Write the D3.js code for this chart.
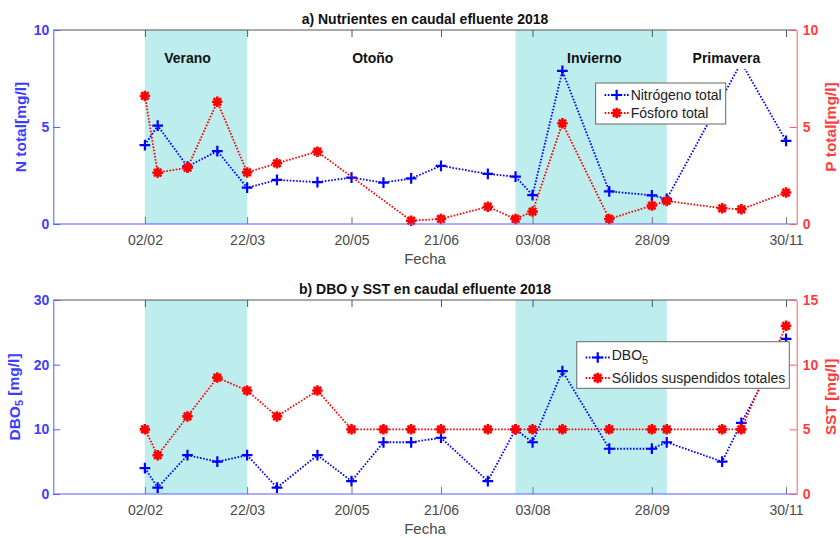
<!DOCTYPE html>
<html>
<head>
<meta charset="utf-8">
<script src="https://cdn.jsdelivr.net/npm/d3@7"></script>
<style>
  body { margin: 0; background: #fff; }
  svg { font-family: "Liberation Sans", Arial, sans-serif; }
</style>
</head>
<body>
<div id="chart"></div>
<script>
// fechas de muestreo 2018
const fechas = ["2018-02-02", "2018-02-08", "2018-02-22", "2018-03-08", "2018-03-22", "2018-04-05",
                "2018-04-24", "2018-05-10", "2018-05-25", "2018-06-07", "2018-06-21", "2018-07-13",
                "2018-07-26", "2018-08-03", "2018-08-17", "2018-09-08", "2018-09-28", "2018-10-05",
                "2018-10-31", "2018-11-09", "2018-11-30"];

// a) nutrientes (null = sin dato)
const nTotal = [4.07, 5.07, 2.96, 3.76, 1.87, 2.27, 2.16, 2.39, 2.13, 2.35, 3.0, 2.58,
                2.44, 1.49, 7.89, 1.68, 1.48, 1.29, null, 8.33, 4.28];
const pTotal = [6.6, 2.65, 2.9, 6.3, 2.66, 3.13, 3.73, null, null, 0.17, 0.26, 0.89,
                0.26, 0.64, 5.19, 0.26, 0.95, 1.19, 0.81, 0.76, 1.62];

// b) DBO5 y SST
const dbo5 = [4, 1, 6, 5, 6, 1, 6, 2, 8, 8, 8.7, 2, 10, 8, 19, 7, 7, 8, 5, 11, 24];
const sst = [5, 3, 6, 9, 8, 6, 8, 5, 5, 5, 5, 5, 5, 5, 5, 5, 5, 5, 5, 5, 13];

// eje x
const tickFechas = ["2018-02-02", "2018-03-22", "2018-05-10", "2018-06-21", "2018-08-03", "2018-09-28", "2018-11-30"];
const tickEtiquetas = ["02/02", "22/03", "20/05", "21/06", "03/08", "28/09", "30/11"];

// estaciones
const estaciones = ["Verano", "Otoño", "Invierno", "Primavera"];
const estacionCentro = ["2018-02-22", "2018-05-20", "2018-09-01", "2018-11-02"];
const sombreado = [["2018-02-02", "2018-03-22"], ["2018-07-26", "2018-10-05"]];

const W = 840, H = 538;
const x0 = 53.3, x1 = 796.7, panelH = 194;
const azul = "#0000ff", rojo = "#ff0000";
const azulEje = "#5c5cff", rojoEje = "#ff5c5c";
const azulTxt = "#3d3dff", rojoTxt = "#ff3d3d";
const gris = "#4a4a4a";
const cian = "#bdeded";

const parse = d3.timeParse("%Y-%m-%d");
const dias = fechas.map(parse);

const x = d3.scaleTime()
  .domain([parse("2017-12-21"), parse("2018-12-05")])
  .range([x0, x1]);

const svg = d3.select("#chart").append("svg")
  .attr("width", W)
  .attr("height", H);

// marcadores al estilo matlab
const simboloMas = {
  draw(ctx, size) {
    const r = Math.sqrt(size) / 2;
    ctx.moveTo(-r, 0); ctx.lineTo(r, 0);
    ctx.moveTo(0, -r); ctx.lineTo(0, r);
  }
};
const simboloAsterisco = {
  draw(ctx, size) {
    const r = Math.sqrt(size) / 2, d = r * Math.SQRT1_2;
    ctx.moveTo(-r, 0); ctx.lineTo(r, 0);
    ctx.moveTo(0, -r); ctx.lineTo(0, r);
    ctx.moveTo(-d, -d); ctx.lineTo(d, d);
    ctx.moveTo(-d, d); ctx.lineTo(d, -d);
  }
};

function marcador(g, tipo, color) {
  if (tipo == "mas") {
    g.append("path")
      .attr("d", d3.symbol().type(simboloMas).size(115)())
      .attr("fill", "none").attr("stroke", color).attr("stroke-width", 2.2);
  } else {
    g.append("path")
      .attr("d", d3.symbol().type(simboloAsterisco).size(110)())
      .attr("fill", "none").attr("stroke", color).attr("stroke-width", 2.6);
    g.append("circle").attr("r", 2.4).attr("fill", color);
  }
}

function serie(g, valores, escala, color, tipo) {
  const puntos = dias.map((f, i) => ({ f: f, v: valores[i] })).filter(d => d.v != null);
  const linea = d3.line().x(d => x(d.f)).y(d => escala(d.v));
  g.append("path")
    .datum(puntos)
    .attr("d", linea)
    .attr("fill", "none")
    .attr("stroke", color)
    .attr("stroke-width", 1.8)
    .attr("stroke-dasharray", "1.6,1.6");
  puntos.forEach(d => {
    const m = g.append("g").attr("transform", `translate(${x(d.f)},${escala(d.v)})`);
    marcador(m, tipo, color);
  });
}

function dibujarPanel(p) {
  const y0 = p.top, y1 = p.top + panelH;
  const yIzq = d3.scaleLinear().domain([0, p.maxIzq]).range([y1, y0]);
  const yDer = d3.scaleLinear().domain([0, p.maxDer]).range([y1, y0]);
  const g = svg.append("g");

  // zonas sombreadas
  g.selectAll("rect.sombra")
    .data(sombreado)
    .join("rect")
    .attr("x", d => x(parse(d[0])))
    .attr("width", d => x(parse(d[1])) - x(parse(d[0])))
    .attr("y", y0)
    .attr("height", panelH)
    .attr("fill", cian);

  // series
  serie(g, p.izq, yIzq, azul, "mas");
  serie(g, p.der, yDer, rojo, "ast");

  // etiquetas de estaciones
  if (p.estaciones) {
    estaciones.forEach((nombre, i) => {
      const f = parse(estacionCentro[i]);
      const t = g.append("text")
        .attr("x", x(f))
        .attr("y", yIzq(8.3))
        .attr("text-anchor", "middle")
        .attr("font-size", 14)
        .attr("font-weight", "bold")
        .attr("fill", "#111")
        .text(nombre);
      const dentro = sombreado.some(s => f >= parse(s[0]) && f <= parse(s[1]));
      if (!dentro) {
        const b = t.node().getBBox();
        g.insert("rect", () => t.node())
          .attr("x", b.x - 3).attr("y", b.y - 3)
          .attr("width", b.width + 6).attr("height", b.height + 6)
          .attr("fill", "#fff");
      }
    });
  }

  // eje x
  const ejeX = d3.axisBottom(x)
    .tickValues(tickFechas.map(parse))
    .tickFormat((d, i) => tickEtiquetas[i])
    .tickSizeInner(-7)
    .tickSizeOuter(0)
    .tickPadding(11);
  const gx = g.append("g").attr("transform", `translate(0,${y1})`).call(ejeX);
  gx.select(".domain").remove();
  gx.selectAll(".tick line").attr("stroke", "#777");
  gx.selectAll(".tick text").attr("fill", gris).attr("font-size", 14).attr("font-family", null);

  const ejeXarriba = d3.axisTop(x)
    .tickValues(tickFechas.map(parse))
    .tickFormat("")
    .tickSizeInner(-7)
    .tickSizeOuter(0);
  const gxt = g.append("g").attr("transform", `translate(0,${y0})`).call(ejeXarriba);
  gxt.select(".domain").remove();
  gxt.selectAll(".tick line").attr("stroke", "#555");

  // borde superior e inferior
  g.append("line").attr("x1", x0).attr("x2", x1).attr("y1", y0).attr("y2", y0)
    .attr("stroke", "#555");
  g.append("line").attr("x1", x0).attr("x2", x1).attr("y1", y1).attr("y2", y1)
    .attr("stroke", azulEje);

  // eje izquierdo
  const gi = g.append("g").attr("transform", `translate(${x0},0)`)
    .call(d3.axisLeft(yIzq).tickValues(p.ticksIzq).tickSizeInner(-7).tickSizeOuter(0).tickPadding(4));
  gi.select(".domain").attr("stroke", azulEje);
  gi.selectAll(".tick line").attr("stroke", azulEje);
  gi.selectAll(".tick text").attr("fill", azulTxt).attr("font-size", 14)
    .attr("font-weight", "bold").attr("font-family", null);

  // eje derecho
  const gd = g.append("g").attr("transform", `translate(${x1},0)`)
    .call(d3.axisRight(yDer).tickValues(p.ticksDer).tickSizeInner(-7).tickSizeOuter(0).tickPadding(6));
  gd.select(".domain").attr("stroke", rojoEje);
  gd.selectAll(".tick line").attr("stroke", rojoEje);
  gd.selectAll(".tick text").attr("fill", rojoTxt).attr("font-size", 14)
    .attr("font-weight", "bold").attr("font-family", null);

  // titulo
  g.append("text")
    .attr("x", (x0 + x1) / 2)
    .attr("y", y0 - 6)
    .attr("text-anchor", "middle")
    .attr("font-size", 14)
    .attr("font-weight", "bold")
    .attr("fill", "#111")
    .text(p.titulo);

  // etiqueta x
  g.append("text")
    .attr("x", (x0 + x1) / 2)
    .attr("y", y1 + 40)
    .attr("text-anchor", "middle")
    .attr("font-size", 15)
    .attr("fill", gris)
    .text("Fecha");

  // etiquetas y
  const ly = (y0 + y1) / 2;
  const ti = g.append("text")
    .attr("transform", `translate(${p.xLabelIzq},${ly}) rotate(-90)`)
    .attr("text-anchor", "middle")
    .attr("font-size", 15.5)
    .attr("font-weight", "bold")
    .attr("fill", azulTxt);
  p.labelIzq.forEach(parte => {
    const s = ti.append("tspan").text(parte.t);
    if (parte.sub) s.attr("dy", "0.3em").attr("font-size", 11);
    if (parte.despues) s.attr("dy", "-0.3em");
  });
  g.append("text")
    .attr("transform", `translate(836,${ly}) rotate(-90)`)
    .attr("text-anchor", "middle")
    .attr("font-size", 15.5)
    .attr("font-weight", "bold")
    .attr("fill", rojoTxt)
    .text(p.labelDer);

  // leyenda
  const lg = g.append("g");
  const caja = lg.append("rect")
    .attr("fill", "#fff")
    .attr("stroke", "#666")
    .attr("stroke-width", 1);
  let anchoTexto = 0;
  p.leyenda.forEach((e, i) => {
    const ry = y0 + p.leyTop + p.leyFila0 + i * p.leyPaso;
    const fila = lg.append("g").attr("transform", `translate(0,${ry})`);
    fila.append("line")
      .attr("x1", 9).attr("x2", 33).attr("y1", 0).attr("y2", 0)
      .attr("stroke", e.color).attr("stroke-width", 1.8).attr("stroke-dasharray", "1.6,1.6");
    const m = fila.append("g").attr("transform", "translate(21,0)");
    marcador(m, e.tipo, e.color);
    const t = fila.append("text")
      .attr("x", 35)
      .attr("y", e.sub ? 2.5 : 5)
      .attr("font-size", 14)
      .attr("fill", "#222");
    t.append("tspan").text(e.texto);
    if (e.sub) t.append("tspan").attr("dy", "0.35em").attr("font-size", 11).text(e.sub);
    anchoTexto = Math.max(anchoTexto, t.node().getComputedTextLength());
  });
  const ancho = 35 + anchoTexto + 4;
  caja.attr("x", 0).attr("y", y0 + p.leyTop).attr("width", ancho).attr("height", p.leyAlto);
  lg.attr("transform", `translate(${p.leyDerecha - ancho},0)`);
}

dibujarPanel({
  top: 30,
  titulo: "a) Nutrientes en caudal efluente 2018",
  izq: nTotal, der: pTotal,
  maxIzq: 10, maxDer: 10,
  ticksIzq: [0, 5, 10], ticksDer: [0, 5, 10],
  labelIzq: [{ t: "N total[mg/l]" }],
  xLabelIzq: 26,
  labelDer: "P total[mg/l]",
  estaciones: true,
  leyenda: [
    { texto: "Nitrógeno total", color: azul, tipo: "mas" },
    { texto: "Fósforo total", color: rojo, tipo: "ast" }
  ],
  leyDerecha: 725.7, leyTop: 53, leyAlto: 41, leyFila0: 12, leyPaso: 18
});

dibujarPanel({
  top: 300,
  titulo: "b) DBO y SST en caudal efluente 2018",
  izq: dbo5, der: sst,
  maxIzq: 30, maxDer: 15,
  ticksIzq: [0, 10, 20, 30], ticksDer: [0, 5, 10, 15],
  labelIzq: [{ t: "DBO" }, { t: "5", sub: true }, { t: " [mg/l]", despues: true }],
  xLabelIzq: 20,
  labelDer: "SST [mg/l]",
  estaciones: false,
  leyenda: [
    { texto: "DBO", sub: "5", color: azul, tipo: "mas" },
    { texto: "Sólidos suspendidos totales", color: rojo, tipo: "ast" }
  ],
  leyDerecha: 789.3, leyTop: 41.7, leyAlto: 46.6, leyFila0: 15.8, leyPaso: 20.5
});
</script>
</body>
</html>
